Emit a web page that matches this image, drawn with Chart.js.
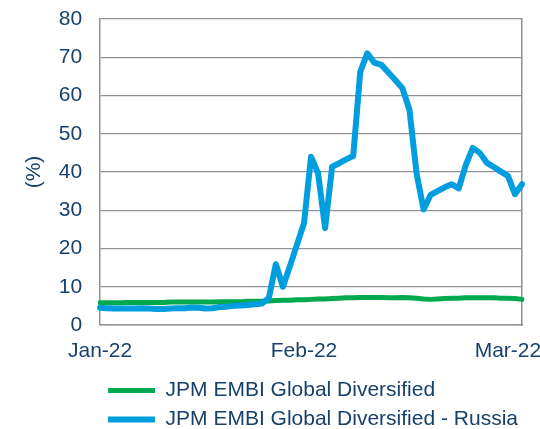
<!DOCTYPE html>
<html>
<head>
<meta charset="utf-8">
<script src="https://cdn.jsdelivr.net/npm/chart.js@4.4.1/dist/chart.umd.min.js"></script>
<style>
  html, body { margin: 0; padding: 0; background: #fff; }
  #wrap { width: 540px; height: 429px; }
</style>
</head>
<body>
<div id="wrap"><canvas id="myChart"></canvas></div>
<script>
// Eje X: una categoria por dia, solo se rotulan tres
const dias = Array.from({ length: 61 }, (_, i) => 'd' + i);
const xTickIdx = [0, 29, 58];
const xTickText = ['Jan-22', 'Feb-22', 'Mar-22'];

// Series (%)
const embiGlobal = [
  5.8, 5.8, 5.8, 5.8, 5.9, 5.9, 5.9, 5.9, 5.9, 5.9,
  6.0, 6.0, 6.0, 6.0, 6.0, 6.0, 6.0, 6.1, 6.1, 6.1,
  6.1, 6.2, 6.2, 6.2, 6.3, 6.4, 6.5, 6.5, 6.6, 6.6,
  6.7, 6.8, 6.8, 6.9, 7.0, 7.1, 7.1, 7.2, 7.2, 7.2,
  7.2, 7.1, 7.1, 7.2, 7.1, 7.0, 6.8, 6.7, 6.8, 6.9,
  7.0, 7.0, 7.1, 7.1, 7.1, 7.1, 7.1, 7.0, 7.0, 6.9, 6.7
];
const embiRusia = [
  4.5, 4.4, 4.3, 4.3, 4.3, 4.3, 4.4, 4.3, 4.2, 4.2,
  4.3, 4.4, 4.4, 4.6, 4.5, 4.3, 4.4, 4.7, 4.8, 5.0,
  5.1, 5.2, 5.4, 5.6, 7.0, 15.9, 10.0, 15.4, 21.0, 26.6,
  44.0, 39.7, 25.3, 41.4, 42.3, 43.3, 44.2, 66.2, 71.0, 68.6,
  68.0, 66.0, 64.0, 61.9, 56.2, 39.7, 30.2, 34.0, 35.0, 36.0,
  36.8, 35.7, 41.8, 46.3, 45.0, 42.4, 41.3, 40.1, 39.0, 34.2, 36.8
];

const textColor = '#17406d';
const gridColor = '#8e9399';
const fuente = { family: "'Liberation Sans', Arial, sans-serif", size: 21 };

new Chart(document.getElementById('myChart'), {
  type: 'line',
  data: {
    labels: dias,
    datasets: [
      {
        label: 'JPM EMBI Global Diversified',
        data: embiGlobal,
        borderColor: '#00a94f',
        backgroundColor: '#00a94f',
        borderWidth: 5,
        borderCapStyle: 'round',
        borderJoinStyle: 'round',
        pointRadius: 0,
        tension: 0,
        order: 1
      },
      {
        label: 'JPM EMBI Global Diversified - Russia',
        data: embiRusia,
        borderColor: '#009ddf',
        backgroundColor: '#009ddf',
        borderWidth: 6,
        borderCapStyle: 'round',
        borderJoinStyle: 'round',
        pointRadius: 0,
        tension: 0,
        order: 0
      }
    ]
  },
  options: {
    responsive: true,
    maintainAspectRatio: false,
    animation: false,
    layout: { padding: { top: 19, right: 18, left: 22, bottom: -11 } },
    scales: {
      x: {
        type: 'category',
        offset: false,
        grid: { display: true, drawOnChartArea: false, drawTicks: true, tickLength: 14, tickColor: 'rgba(0,0,0,0)' },
        border: { color: gridColor, width: 1.5 },
        ticks: {
          autoSkip: false,
          maxRotation: 0,
          padding: 0,
          color: textColor,
          font: fuente,
          callback: (v, i) => {
            const k = xTickIdx.indexOf(i);
            return k >= 0 ? xTickText[k] : '';
          }
        }
      },
      y: {
        min: 0,
        max: 80,
        grid: { color: gridColor, lineWidth: 1.3, drawTicks: true, tickLength: 16, tickColor: 'rgba(0,0,0,0)' },
        border: { color: gridColor, width: 1.5 },
        ticks: { stepSize: 10, padding: 2, color: textColor, font: fuente },
        title: { display: true, text: '(%)', color: textColor, font: fuente, padding: { top: 0, bottom: 9.5 } }
      },
      y2: {
        position: 'right',
        min: 0,
        max: 80,
        grid: { drawOnChartArea: false, drawTicks: false },
        border: { color: gridColor, width: 1.5 },
        ticks: { display: false }
      }
    },
    plugins: {
      tooltip: { enabled: false },
      legend: {
        position: 'bottom',
        align: 'start',
        fullSize: false,
        title: { display: true, text: '', padding: 0, font: { size: 6.5 } },
        labels: {
          usePointStyle: true,
          pointStyle: 'line',
          pointStyleWidth: 47,
          boxHeight: 6,
          padding: 8,
          color: textColor,
          font: fuente,
          sort: (a, b) => a.datasetIndex - b.datasetIndex
        }
      }
    }
  }
});
</script>
</body>
</html>
